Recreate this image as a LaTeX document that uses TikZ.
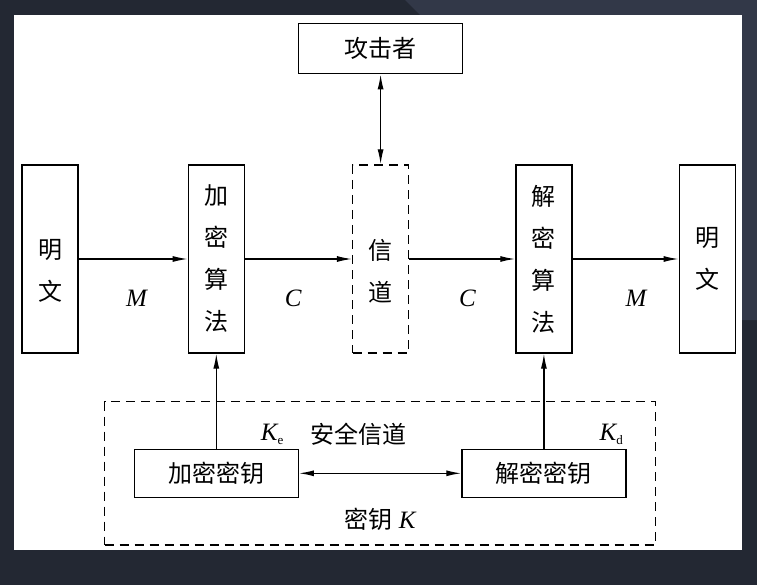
\documentclass[tikz,border=0pt]{standalone}
\usepackage{fontspec}
\newfontfamily\cjk{Noto Sans CJK SC}
\newfontfamily\tms{Liberation Serif}
\usetikzlibrary{positioning,fit,arrows.meta}
\definecolor{frame}{RGB}{35,40,51}
\definecolor{frametop}{RGB}{50,56,72}

\begin{document}
\begin{tikzpicture}[x=1pt, y=-1pt, node distance=108pt, line width=1.3pt,
    >={Latex[length=15pt,width=6pt]},
    blk/.style = {draw, minimum width=56pt, minimum height=188pt, inner sep=0pt, align=center, font=\cjk\fontsize{24}{42}\selectfont},
    lowtxt/.style = {label={[align=center, font=\cjk\fontsize{24}{42}\selectfont, yshift=-12pt]center:#1}},
    wide/.style = {draw, minimum width=164pt, minimum height=48pt, inner sep=0pt, font=\cjk\fontsize{24}{28}\selectfont},
    dashline/.style = {dash pattern=on 9pt off 6pt},
    lbl/.style = {font=\tms\itshape\fontsize{25}{28}\selectfont}]
  \useasboundingbox (0,0) rectangle (757,585);
  % screen frame
  \fill[frame] (0,0) rectangle (757,585);
  \fill[frametop] (405,0) -- (757,0) -- (757,320) -- (742,320) -- (742,15) -- (420,15) -- cycle;
  \fill[white] (14,15) rectangle (742,550);

  \node[blk, lowtxt={明\\文}] (mingl) at (50,259) {};
  \node[blk] (jiami) [right=109pt of mingl] {加\\密\\算\\法};
  \node[blk, dashline, lowtxt={信\\道}] (xindao) [right=107pt of jiami] {};
  \node[blk] (jiemi) [right=106pt of xindao] {解\\密\\算\\法};
  \node[blk] (mingr) [right=106pt of jiemi] {明\\文};
  \node[wide, minimum height=50pt] (gongji) [above=90pt of xindao] {攻击者};
  \node[wide] (jmkey) [below=95pt of jiami] {加密密钥};
  \node[wide] (jdkey) [below=95pt of jiemi] {解密密钥};
  \node[draw, dashline, fit=(jmkey)(jdkey), inner xsep=29pt, inner ysep=47pt] (anquan) {};

  \draw[->] (mingl) -- node[lbl, pos=0.53, below=27pt] (m1) {M} (jiami);
  \draw[->] (jiami) -- node[lbl, pos=0.45, below=27pt] (c1) {C} (xindao);
  \draw[->] (xindao) -- node[lbl, pos=0.55, below=27pt] (c2) {C} (jiemi);
  \draw[->] (jiemi) -- node[lbl, pos=0.6, below=27pt] (m2) {M} (mingr);
  \draw[<->] (gongji) -- (xindao);
  \draw[->] (jmkey) -- (jiami);
  \draw[->] (jdkey) -- (jiemi);
  \draw[<->] (jmkey) -- node[below=31pt, font=\cjk\fontsize{24}{28}\selectfont] (miyao) {密钥\hspace{6pt}{\tms\itshape\fontsize{25}{28}\selectfont K}} (jdkey);

  \node[lbl, anchor=south east, inner sep=1pt] (ke) at ([xshift=-14pt, yshift=2pt]jmkey.north east) {K\raisebox{-4pt}{\upshape\fontsize{13}{14}\selectfont e}};
  \node[lbl, anchor=south east, inner sep=1pt] (kd) at ([xshift=-2pt, yshift=2pt]jdkey.north east) {K\raisebox{-4pt}{\upshape\fontsize{13}{14}\selectfont d}};
  \node[font=\cjk\fontsize{24}{28}\selectfont, right=22pt of ke] (aqxd) {安全信道};
\end{tikzpicture}
\end{document}
